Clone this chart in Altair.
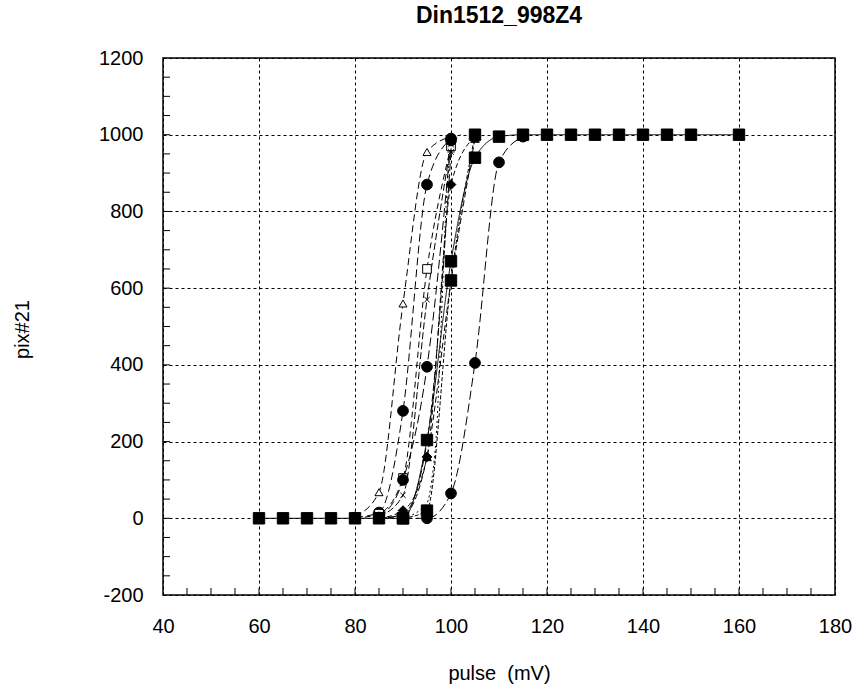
import altair as alt
import pandas as pd

title_text = "Din1512_998Z4"
x_title = "pulse\u00a0 (mV)"
y_title = "pix#21"

x_ticks = [40, 60, 80, 100, 120, 140, 160, 180]
y_ticks = [-200, 0, 200, 400, 600, 800, 1000, 1200]
x_minor = list(range(45, 180, 5))
y_minor = list(range(-150, 1200, 50))

# series
sq_x = [60, 65, 70, 75, 80, 85, 90, 95, 100, 105, 110, 115, 120, 125, 130, 135, 140, 145, 150, 160]
sq_y = [0, 0, 0, 0, 0, 0, 0, 204, 670, 940, 995, 1000, 1000, 1000, 1000, 1000, 1000, 1000, 1000, 1000]

tri_open_x = [80, 85, 90, 95, 100]
tri_open_y = [5, 68, 560, 955, 995]

circ_a_x = [80, 85, 90, 95, 100]
circ_a_y = [2, 15, 280, 870, 990]

sq_open_x = [80, 85, 90, 95, 100]
sq_open_y = [0, 12, 105, 650, 970]

x_mark_x = [85, 90, 95, 100]
x_mark_y = [5, 60, 570, 975]

circ_b_x = [85, 90, 95, 100]
circ_b_y = [2, 100, 395, 985]

diam_x = [85, 90, 95, 100, 105]
diam_y = [0, 20, 160, 870, 995]

star_x = [85, 90, 95, 100]
star_y = [0, 10, 200, 955]

tri_fill_x = [85, 90, 95, 100, 105]
tri_fill_y = [0, 8, 160, 617, 990]

circ_c_x = [90, 95, 100, 105, 110, 115]
circ_c_y = [0, 0, 65, 405, 928, 995]

sq2_x = [90, 95, 100, 105]
sq2_y = [0, 20, 620, 1000]

dot_x = [90, 95, 96, 97, 98, 99, 100, 102]
dot_y = [0, 40, 100, 230, 520, 820, 960, 1000]

series = [
    ("tri_open", tri_open_x, tri_open_y),
    ("circ_a", circ_a_x, circ_a_y),
    ("sq_open", sq_open_x, sq_open_y),
    ("x_mark", x_mark_x, x_mark_y),
    ("circ_b", circ_b_x, circ_b_y),
    ("diam", diam_x, diam_y),
    ("star", star_x, star_y),
    ("tri_fill", tri_fill_x, tri_fill_y),
    ("circ_c", circ_c_x, circ_c_y),
    ("dot", dot_x, dot_y),
    ("sq2", sq2_x, sq2_y),
    ("sq", sq_x, sq_y),
]

names = [s[0] for s in series]
dash_range = [[7, 4], [8, 4], [6, 4], [7, 3], [9, 4], [5, 3], [8, 3], [6, 3], [9, 4], [2, 3], [4, 2], [1, 0]]

shape_x = "M-0.6,-0.6L0.6,0.6M-0.6,0.6L0.6,-0.6"
shape_star = "M-0.6,-0.6L0.6,0.6M-0.6,0.6L0.6,-0.6M0,-0.8L0,0.8M-0.8,0L0.8,0"
marker_shape = {"sq": "square", "sq2": "square", "tri_open": "triangle-up", "circ_a": "circle",
                "sq_open": "square", "x_mark": shape_x, "circ_b": "circle", "diam": "diamond",
                "star": shape_star, "tri_fill": "triangle-up", "circ_c": "circle"}
marker_fill = {"sq": "black", "sq2": "black", "tri_open": "white", "circ_a": "black", "sq_open": "white",
               "x_mark": "white", "circ_b": "black", "diam": "black", "star": "white",
               "tri_fill": "black", "circ_c": "black"}
marker_size = {"sq": 130, "sq2": 130, "tri_open": 65, "circ_a": 115, "sq_open": 75, "x_mark": 75,
               "circ_b": 115, "diam": 95, "star": 85, "tri_fill": 75, "circ_c": 115}

rows = []
for order, (name, xs, ys) in enumerate(series):
    for xv, yv in zip(xs, ys):
        rows.append({"series": name, "order": order, "pulse": xv, "pix": yv,
                     "shape": marker_shape.get(name, "circle"),
                     "fillc": marker_fill.get(name, "black"),
                     "msize": marker_size.get(name, 0)})
df = pd.DataFrame(rows)
df_pts = df[df["series"] != "dot"]

xscale = alt.Scale(domain=[40, 180], nice=False, zero=False)
yscale = alt.Scale(domain=[-200, 1200], nice=False, zero=False)

lines = alt.Chart(df).mark_line(color="black", strokeWidth=1, interpolate="monotone").encode(
    x=alt.X("pulse:Q", scale=xscale,
            axis=alt.Axis(values=x_ticks, title=x_title, titleX=336, titleY=78,
                          titleBaseline="middle", titleAlign="center", labelFlush=False,
                          labelExpr="'' + datum.value", labelPadding=21)),
    y=alt.Y("pix:Q", scale=yscale,
            axis=alt.Axis(values=y_ticks, title=y_title, titleX=-141, titleY=271,
                          titleAngle=-90, titleBaseline="middle", titleAlign="center",
                          labelFlush=False, labelExpr="'' + datum.value", labelPadding=20)),
    detail="series:N",
    strokeDash=alt.StrokeDash("series:N", scale=alt.Scale(domain=names, range=dash_range), legend=None),
)

points = alt.Chart(df_pts).mark_point(filled=False, stroke="black", strokeWidth=1, opacity=1).encode(
    x=alt.X("pulse:Q", scale=xscale),
    y=alt.Y("pix:Q", scale=yscale),
    shape=alt.Shape("shape:N", scale=None),
    fill=alt.Fill("fillc:N", scale=None),
    size=alt.Size("msize:Q", scale=None),
    order=alt.Order("order:Q"),
)

xminor_df = pd.DataFrame({"v": x_minor})
yminor_df = pd.DataFrame({"v": y_minor})

xminor = alt.Chart(xminor_df).mark_rule(color="black", strokeWidth=1).encode(
    x=alt.X("v:Q", scale=xscale),
    y=alt.value(537), y2=alt.value(530),
)
yminor = alt.Chart(yminor_df).mark_rule(color="black", strokeWidth=1).encode(
    y=alt.Y("v:Q", scale=yscale),
    x=alt.value(0), x2=alt.value(7),
)

chart = alt.layer(lines, points, xminor, yminor).properties(
    width=672, height=537,
    title=alt.TitleParams(title_text, fontSize=23, fontWeight="bold", font="Liberation Sans",
                          anchor="middle", offset=20, color="black"),
    autosize=alt.AutoSizeParams(type="none"),
    padding={"left": 163, "top": 58, "right": 22, "bottom": 97},
).configure_view(
    stroke="black", strokeWidth=1.5
).configure_axis(
    domain=False, ticks=False, grid=True, gridColor="black", gridDash=[3, 3], gridWidth=1,
    gridOpacity=1, labelFont="Liberation Sans", labelFontSize=20, labelColor="black",
    titleFont="Liberation Sans", titleFontSize=20, titleFontWeight="normal", titleColor="black",
)

chart.save("out.html", embed_options={"renderer": "svg", "actions": False})
